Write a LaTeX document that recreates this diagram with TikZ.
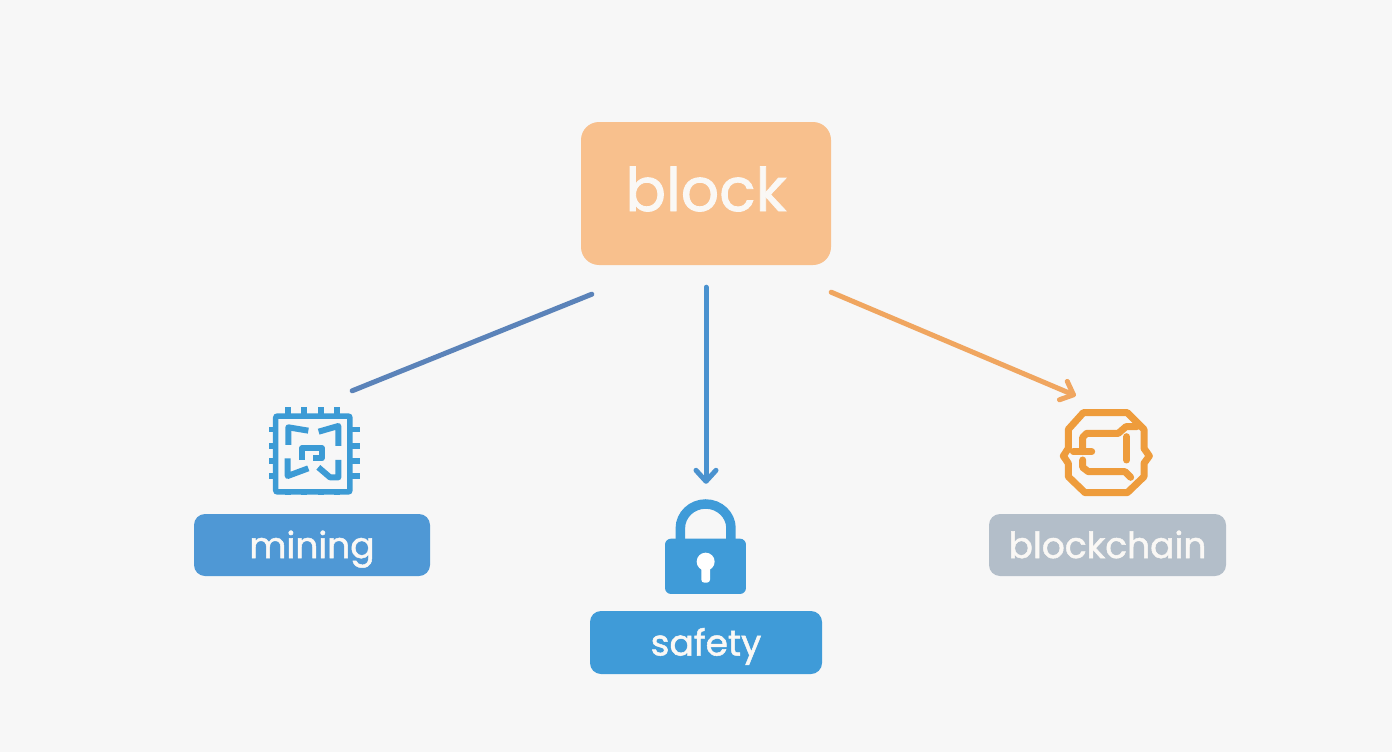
\documentclass[tikz,border=0pt]{standalone}
\usepackage{fontspec}
\newfontfamily\labfont{Poppins}[FakeBold=1.4]
\usetikzlibrary{arrows.meta,calc}
\definecolor{bgc}{HTML}{F7F7F7}
\definecolor{blockc}{HTML}{F8C08D}
\definecolor{miningc}{HTML}{4F98D5}
\definecolor{safetyc}{HTML}{3F9BD8}
\definecolor{chainc}{HTML}{B3BEC9}
\definecolor{linea}{HTML}{5B83B9}
\definecolor{lineb}{HTML}{4A92CF}
\definecolor{linec}{HTML}{F0A660}
\definecolor{chipc}{HTML}{3C9BD5}
\definecolor{ringc}{HTML}{EE9C3C}
\definecolor{labc}{HTML}{FAF8F5}
\tikzset{
 boxn/.style={rounded corners=11pt,minimum height=62pt,inner sep=0pt,text=labc,text height=28pt,text depth=2pt,font=\labfont\fontsize{36}{36}\selectfont},
 conn/.style={line width=5pt,line cap=round},
 tip/.style={-{Straight Barb[length=11pt,width=20pt,line width=5pt,round]}},
 chipl/.style={chipc,line width=5.5pt,line join=miter},
 chipin/.style={chipc,line width=6pt,line join=round},
 ringl/.style={ringc,line width=7pt,line join=round,line cap=round},
 icon/.style={minimum size=80pt,inner sep=0pt}
}
\begin{document}
\begin{tikzpicture}[x=1pt,y=-1pt]
\useasboundingbox (0,0) rectangle (1392,752);
\fill[bgc] (0,0) rectangle (1392,752);
% boxes
\node[boxn,fill=blockc,rounded corners=18pt,minimum width=250pt,minimum height=143pt,text height=40pt,text depth=5pt,font=\labfont\fontsize{60}{60}\selectfont] (block) at (706,193.5) {block};
\node[boxn,fill=miningc,minimum width=236pt] (mining) at (312,545) {mining};
\node[boxn,fill=safetyc,minimum width=232pt,minimum height=63pt] (safety) at (706,642.5) {safety};
\node[boxn,fill=chainc,minimum width=237pt] (chain) at (1107.5,545) {blockchain};
% icon anchors
\node[icon] (chip) at (314,450) {};
\node[icon] (lock) at (706,547) {};
\node[icon] (ring) at (1106,452) {};
\coordinate (astart) at ($(block.south west)+(11,29)$);
\coordinate (aend) at ($(chip.north east)+(-2,-19)$);
\coordinate (cstart) at ($(block.south east)+(0,27)$);
\coordinate (cend) at ($(ring.north west)+(10,-16)$);
% connectors
\draw[conn,linea] (astart) -- (aend);
\draw[conn,lineb,tip,shorten <=22pt,shorten >=23pt] (block.south) -- (lock.north);
\draw[conn,linec,tip] (cstart) -- (cend);
% chip icon
\begin{scope}[shift={(250,390)},x=0.3333pt,y=-0.3333pt]
 \draw[chipl,rounded corners=2pt] (77,78) rectangle (300,306);
 \foreach \p in {113,163,213,262}{
  \fill[chipc] (\p-9,50) rectangle (\p+9,75);
  \fill[chipc] (\p-9,304) rectangle (\p+9,316);
 }
 \foreach \p in {118,168,213,258}{
  \fill[chipc] (57,\p-8) rectangle (75,\p+8);
  \fill[chipc] (302,\p-8) rectangle (330,\p+8);
 }
 \draw[chipin] (115,165)--(115,112)--(175,122);
 \draw[chipin] (265,168)--(265,108)--(206,125);
 \draw[chipin] (113,205)--(113,258)--(175,235);
 \draw[chipin] (265,210)--(265,262)--(240,262)--(205,232);
 \draw[chipin] (157,210)--(157,174)--(215,174)--(215,205)--(190,205);
\end{scope}
% lock icon
\begin{scope}[shift={(640,460)},x=0.3333pt,y=-0.3333pt]
 \draw[safetyc,line width=9.5pt] (121,240)--(121,205) arc[start angle=180,end angle=360,x radius=76,y radius=73] --(273,240);
 \fill[safetyc,rounded corners=6pt] (75,236) rectangle (318,402);
 \fill[white] (197,305) circle[radius=27];
 \fill[white,rounded corners=3pt] (184,310) rectangle (210,368);
\end{scope}
% ring icon
\begin{scope}[shift={(1040,380)},x=0.3333pt,y=-0.3333pt]
 \draw[ringl] (130,98)--(262,98)--(312,148)--(312,205)--(328,228)--(312,250)--(312,290)--(262,338)--(135,338)--(85,290)--(85,250)--(70,228)--(85,205)--(85,148)--cycle;
 \draw[ringl] (155,215)--(100,215);
 \draw[ringl] (128,215)--(128,172)--(140,160)--(235,160)--(258,140)--(290,140);
 \draw[ringl] (260,170)--(260,240);
 \draw[ringl] (128,240)--(128,262)--(145,275)--(255,275)--(272,292);
\end{scope}
\end{tikzpicture}
\end{document}
